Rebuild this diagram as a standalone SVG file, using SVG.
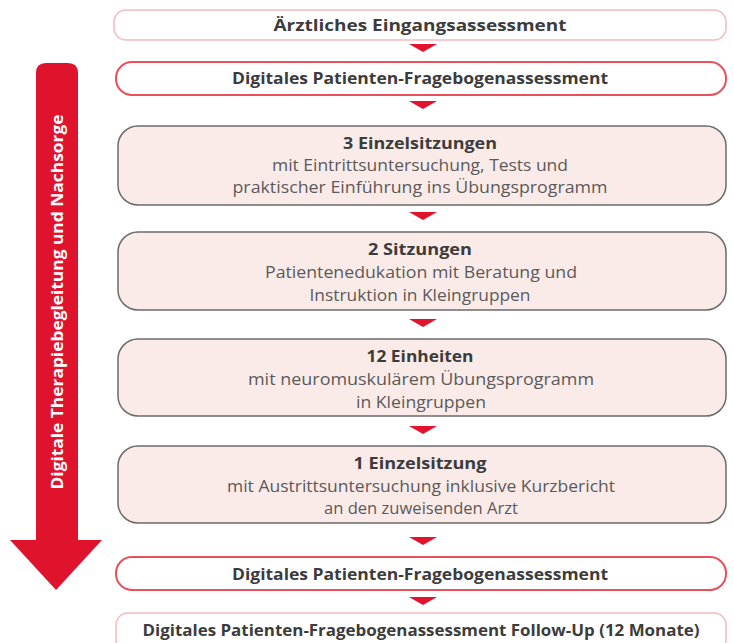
<svg xmlns="http://www.w3.org/2000/svg" width="734" height="643" viewBox="0 0 734 643">
<style>
.t{font-family:"Open Sans","Noto Sans","DejaVu Sans",sans-serif;text-anchor:middle;}
.h{font-weight:bold;font-size:16px;fill:#3c3c3c;}
.b{font-size:16px;fill:#5a5a5a;}
.pale{fill:#fff;stroke:#f5b9be;stroke-width:1.5;}
.red{fill:#fff;stroke:#e8505c;stroke-width:2;}
.step{fill:#fbebe8;stroke:#6b6b6b;stroke-width:1.5;}
.tri{fill:#e3132d;}
</style>
<rect width="734" height="643" fill="#fff"/>
<g id="side-arrow">
<path d="M36,73 Q36,63 46,63 L68,63 Q78,63 78,73 L78,540 L102,540 L56,590 L10,540 L36,540 Z" fill="#e0132d"/>
<text class="t" transform="translate(63,302) rotate(-90)" font-weight="bold" font-size="16" fill="#fff" textLength="375" lengthAdjust="spacingAndGlyphs">Digitale Therapiebegleitung und Nachsorge</text>
</g>
<g id="connectors">
<polygon class="tri" points="409,44 437,44 423,52"/>
<polygon class="tri" points="409,101 437,101 423,109"/>
<polygon class="tri" points="409,212 437,212 423,220"/>
<polygon class="tri" points="409,319 437,319 423,327"/>
<polygon class="tri" points="409,426 437,426 423,434"/>
<polygon class="tri" points="409,537 437,537 423,545"/>
<polygon class="tri" points="409,597 437,597 423,605"/>
</g>
<g id="n1">
<rect class="pale" x="114" y="10" width="612" height="30" rx="12"/>
<text class="t h" x="420" y="31" textLength="293" lengthAdjust="spacingAndGlyphs">Ärztliches Eingangsassessment</text>
</g>
<g id="n2">
<rect class="red" x="116" y="62" width="610" height="33" rx="16"/>
<text class="t h" x="420" y="84" textLength="376" lengthAdjust="spacingAndGlyphs">Digitales Patienten-Fragebogenassessment</text>
</g>
<g id="n3">
<rect class="step" x="118" y="126" width="608" height="79" rx="20"/>
<text class="t h" x="420" y="149" textLength="154" lengthAdjust="spacingAndGlyphs">3 Einzelsitzungen</text>
<text class="t b" x="420" y="171" textLength="296" lengthAdjust="spacingAndGlyphs">mit Eintrittsuntersuchung, Tests und</text>
<text class="t b" x="420" y="193" textLength="375" lengthAdjust="spacingAndGlyphs">praktischer Einführung ins Übungsprogramm</text>
</g>
<g id="n4">
<rect class="step" x="118" y="232" width="608" height="78" rx="20"/>
<text class="t h" x="420" y="255" textLength="104" lengthAdjust="spacingAndGlyphs">2 Sitzungen</text>
<text class="t b" x="421" y="278" textLength="312" lengthAdjust="spacingAndGlyphs">Patientenedukation mit Beratung und</text>
<text class="t b" x="420" y="301" textLength="221" lengthAdjust="spacingAndGlyphs">Instruktion in Kleingruppen</text>
</g>
<g id="n5">
<rect class="step" x="118" y="339" width="608" height="77" rx="20"/>
<text class="t h" x="420" y="362" textLength="107" lengthAdjust="spacingAndGlyphs">12 Einheiten</text>
<text class="t b" x="421" y="385" textLength="346" lengthAdjust="spacingAndGlyphs">mit neuromuskulärem Übungsprogramm</text>
<text class="t b" x="421" y="408" textLength="130" lengthAdjust="spacingAndGlyphs">in Kleingruppen</text>
</g>
<g id="n6">
<rect class="step" x="118" y="446" width="608" height="77" rx="20"/>
<text class="t h" x="420" y="469" textLength="133" lengthAdjust="spacingAndGlyphs">1 Einzelsitzung</text>
<text class="t b" x="421" y="492" textLength="388" lengthAdjust="spacingAndGlyphs">mit Austrittsuntersuchung inklusive Kurzbericht</text>
<text class="t b" x="421" y="514" textLength="194" lengthAdjust="spacingAndGlyphs">an den zuweisenden Arzt</text>
</g>
<g id="n7">
<rect class="red" x="116" y="557" width="610" height="33" rx="16"/>
<text class="t h" x="420" y="580" textLength="376" lengthAdjust="spacingAndGlyphs">Digitales Patienten-Fragebogenassessment</text>
</g>
<g id="n8">
<rect class="pale" x="116" y="613" width="610" height="40" rx="12"/>
<text class="t h" x="421" y="636" textLength="557" lengthAdjust="spacingAndGlyphs">Digitales Patienten-Fragebogenassessment Follow-Up (12 Monate)</text>
</g>
</svg>
